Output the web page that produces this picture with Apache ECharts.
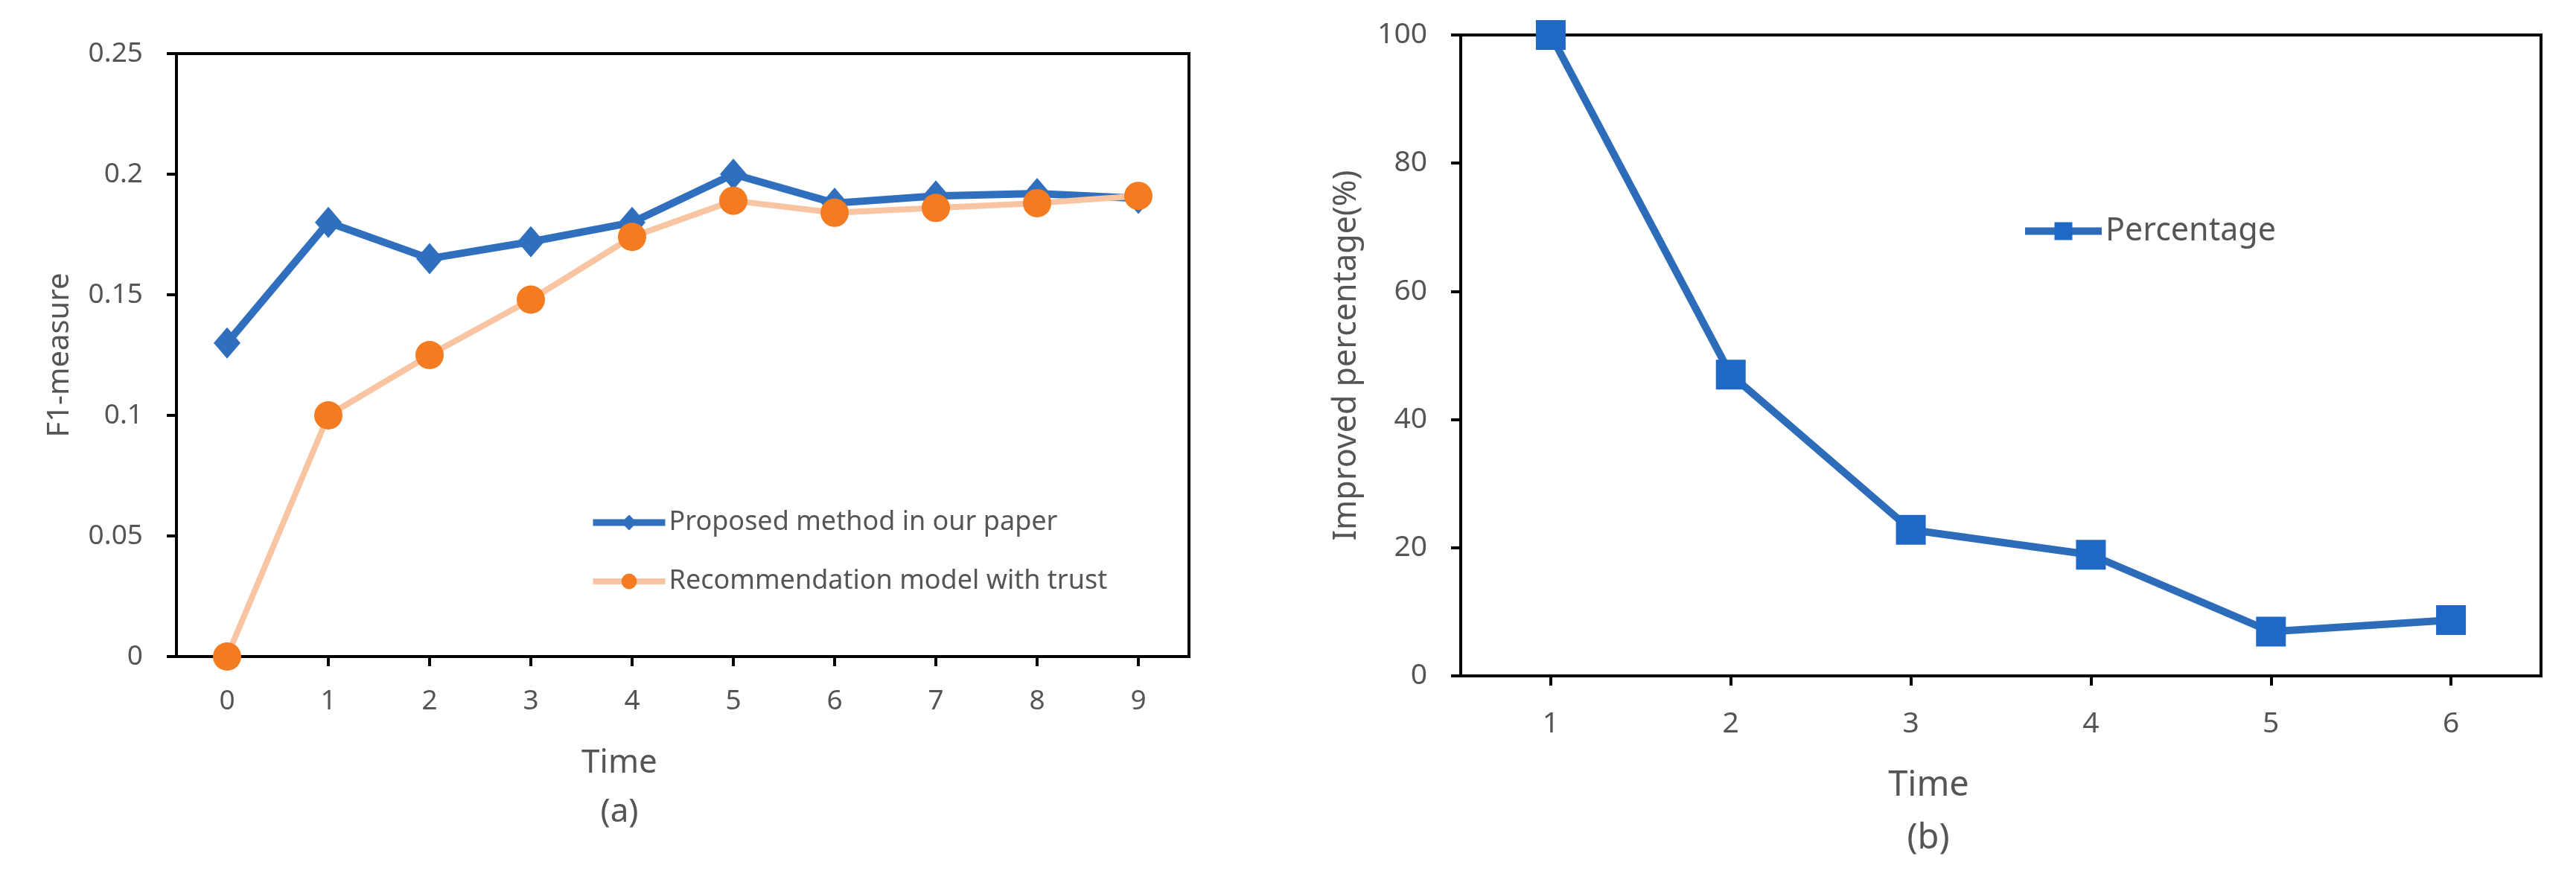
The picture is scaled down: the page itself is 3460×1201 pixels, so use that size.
<!DOCTYPE html>
<html>
<head>
<meta charset="utf-8">
<script src="https://cdn.jsdelivr.net/npm/echarts@6/dist/echarts.min.js"></script>
<style>
  html, body { margin: 0; padding: 0; background: #fff; }
  #main { width: 3460px; height: 1201px; }
</style>
</head>
<body>
<div id="main"></div>
<script>
// (a) F1-measure over time
const timeA = ['0', '1', '2', '3', '4', '5', '6', '7', '8', '9'];
const proposed = [0.130, 0.180, 0.165, 0.172, 0.180, 0.200, 0.188, 0.191, 0.192, 0.190];
const trustModel = [0.000, 0.100, 0.125, 0.148, 0.174, 0.189, 0.184, 0.186, 0.188, 0.191];

// (b) improved percentage
const timeB = ['1', '2', '3', '4', '5', '6'];
const percentage = [100, 47, 22.8, 18.9, 6.9, 8.7];

const FONT = '"Noto Sans", "DejaVu Sans", sans-serif';
const TXT = '#555555';
const BLUE = '#2f6fbd';
const ORANGE = '#f47b20';
const PEACH = '#f8c4a2';

const axisLineStyle = { show: true, lineStyle: { color: '#000', width: 4 } };
const tickStyle = { show: true, length: 13, lineStyle: { color: '#000', width: 4 } };

const chart = echarts.init(document.getElementById('main'));

const option = {
  backgroundColor: '#fff',
  animation: false,
  textStyle: { fontFamily: FONT },
  grid: [
    { left: 237, top: 72, width: 1360, height: 810, show: true, borderColor: '#000', borderWidth: 4 },
    { left: 1962, top: 47, width: 1451, height: 861, show: true, borderColor: '#000', borderWidth: 4 }
  ],
  legend: [
    {
      data: [
        { name: 'Proposed method in our paper', lineStyle: { width: 9, color: BLUE } },
        { name: 'Recommendation model with trust', lineStyle: { width: 8, color: PEACH } }
      ],
      orient: 'vertical',
      left: 787,
      top: 679,
      itemWidth: 97,
      itemHeight: 26,
      itemGap: 43,
      textStyle: { fontFamily: FONT, fontSize: 36, color: TXT }
    },
    {
      data: [{ name: 'Percentage', lineStyle: { width: 10, color: '#2c6cb9' } }],
      left: 2710,
      top: 284,
      itemWidth: 103,
      itemHeight: 30,
      textStyle: { fontFamily: FONT, fontSize: 43, color: TXT }
    }
  ],
  xAxis: [
    {
      type: 'category',
      gridIndex: 0,
      data: timeA,
      boundaryGap: true,
      axisLine: axisLineStyle,
      axisTick: Object.assign({ alignWithLabel: true }, tickStyle),
      axisLabel: { fontSize: 37, color: TXT, margin: 42, fontFamily: FONT },
      name: 'Time',
      nameLocation: 'middle',
      nameGap: 121,
      nameTextStyle: { fontSize: 44, color: TXT, fontFamily: FONT, padding: [0, 170, 0, 0] },
      splitLine: { show: false }
    },
    {
      type: 'category',
      gridIndex: 1,
      data: timeB,
      boundaryGap: true,
      axisLine: axisLineStyle,
      axisTick: Object.assign({ alignWithLabel: true }, tickStyle),
      axisLabel: { fontSize: 39, color: TXT, margin: 45, fontFamily: FONT },
      name: 'Time',
      nameLocation: 'middle',
      nameGap: 124,
      nameTextStyle: { fontSize: 47, color: TXT, fontFamily: FONT, padding: [0, 194, 0, 0] },
      splitLine: { show: false }
    }
  ],
  yAxis: [
    {
      type: 'value',
      gridIndex: 0,
      min: 0,
      max: 0.25,
      interval: 0.05,
      axisLine: axisLineStyle,
      axisTick: tickStyle,
      splitLine: { show: false },
      axisLabel: { fontSize: 37, color: TXT, margin: 45, fontFamily: FONT },
      name: 'F1-measure',
      nameLocation: 'middle',
      nameGap: 136,
      nameTextStyle: { fontSize: 40, color: TXT, fontFamily: FONT }
    },
    {
      type: 'value',
      gridIndex: 1,
      min: 0,
      max: 100,
      interval: 20,
      axisLine: axisLineStyle,
      axisTick: tickStyle,
      splitLine: { show: false },
      axisLabel: { fontSize: 39, color: TXT, margin: 45, fontFamily: FONT },
      name: 'Improved percentage(%)',
      nameLocation: 'middle',
      nameGap: 132,
      nameTextStyle: { fontSize: 43, color: TXT, fontFamily: FONT }
    }
  ],
  series: [
    {
      name: 'Proposed method in our paper',
      type: 'line',
      xAxisIndex: 0,
      yAxisIndex: 0,
      data: proposed,
      symbol: 'diamond',
      symbolSize: [36, 42],
      showSymbol: true,
      clip: false,
      lineStyle: { color: BLUE, width: 10 },
      itemStyle: { color: BLUE }
    },
    {
      name: 'Recommendation model with trust',
      type: 'line',
      xAxisIndex: 0,
      yAxisIndex: 0,
      data: trustModel,
      symbol: 'circle',
      symbolSize: 38,
      showSymbol: true,
      clip: false,
      lineStyle: { color: PEACH, width: 8 },
      itemStyle: { color: ORANGE }
    },
    {
      name: 'Percentage',
      type: 'line',
      xAxisIndex: 1,
      yAxisIndex: 1,
      data: percentage,
      symbol: 'rect',
      symbolSize: 40,
      showSymbol: true,
      clip: false,
      lineStyle: { color: '#2c6cb9', width: 10 },
      itemStyle: { color: '#2068c6' }
    }
  ],
  graphic: [
    { type: 'text', x: 832, y: 1091, style: { text: '(a)', font: '44px ' + FONT, fill: TXT, align: 'center', verticalAlign: 'middle' } },
    { type: 'text', x: 2590, y: 1127, style: { text: '(b)', font: '47px ' + FONT, fill: TXT, align: 'center', verticalAlign: 'middle' } }
  ]
};

chart.setOption(option);
</script>
</body>
</html>
